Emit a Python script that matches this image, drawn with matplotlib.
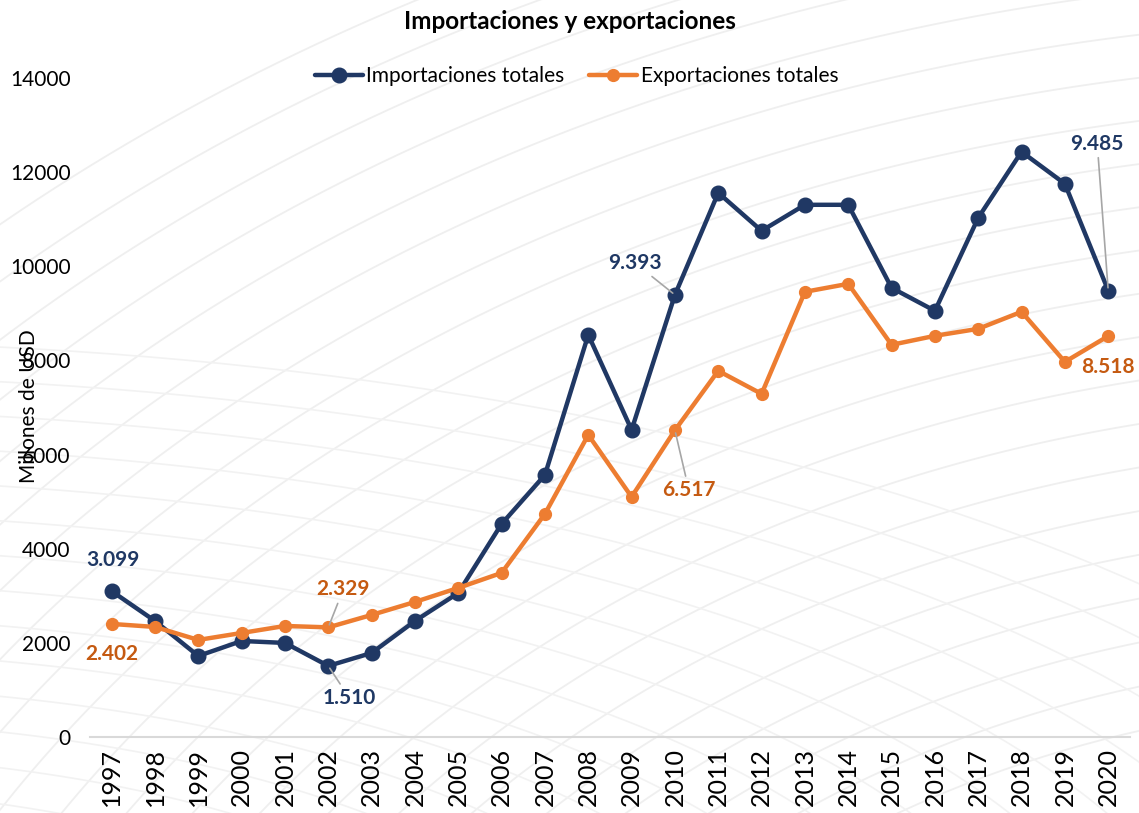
import numpy as np
import matplotlib
matplotlib.use("Agg")
import matplotlib.pyplot as plt

plt.rcParams["font.family"] = ["Lato", "DejaVu Sans"]

years = [str(y) for y in range(1997, 2021)]

importaciones = [3099, 2465, 1721, 2040, 1998, 1510, 1785, 2465, 3060, 4527,
                 5568, 8544, 6525, 9393, 11562, 10754, 11307, 11307, 9543, 9054,
                 11031, 12434, 11753, 9485]

exportaciones = [2402, 2338, 2062, 2210, 2359, 2329, 2593, 2869, 3167, 3486,
                 4740, 6419, 5101, 6517, 7779, 7290, 9458, 9628, 8332, 8523,
                 8672, 9034, 7970, 8518]

yTicks = [0, 2000, 4000, 6000, 8000, 10000, 12000, 14000]

navy = "#203864"
orange = "#ED7D31"
navyText = "#1F3864"
orangeText = "#C55A11"

fig = plt.figure(figsize=(11.39, 8.13), dpi=100)

# faint decorative arcs in the background
bg = fig.add_axes([0, 0, 1, 1], zorder=-5)
bg.set_xlim(0, 1)
bg.set_ylim(0, 1)
bg.axis("off")
t = np.linspace(0, 2*np.pi, 600)
for r in np.linspace(0.9, 1.9, 22):
    bg.plot(1.25 + r*np.cos(t), -0.85 + r*1.1*np.sin(t), color="#efefef", lw=1.3)
for r in np.linspace(0.6, 1.6, 14):
    bg.plot(-0.2 + r*np.cos(t), -0.3 + r*0.55*np.sin(t), color="#f2f2f2", lw=1.2)

ax = fig.add_axes([0.079, 0.0935, 0.913, 0.8105])
ax.patch.set_alpha(0)

x = np.arange(len(years))

ax.plot(x, importaciones, color=navy, lw=3.2, marker="o", markersize=10.5,
        label="Importaciones totales", zorder=3, solid_capstyle="round")
ax.plot(x, exportaciones, color=orange, lw=3.2, marker="o", markersize=8.5,
        label="Exportaciones totales", zorder=4, solid_capstyle="round")

ax.set_xlim(-0.5, len(years) - 0.5)
ax.set_ylim(0, 14000)
ax.set_yticks(yTicks)
ax.set_yticklabels([str(v) for v in yTicks], fontsize=15)
ax.set_xticks(x)
ax.set_xticklabels(years, rotation=90, fontsize=18)
ax.tick_params(axis="both", length=0)
ax.tick_params(axis="y", pad=14)
ax.tick_params(axis="x", pad=8)

for side in ["top", "right", "left"]:
    ax.spines[side].set_visible(False)
ax.spines["bottom"].set_color("#d9d9d9")
ax.spines["bottom"].set_linewidth(1.5)

ax.set_ylabel("Millones de USD", fontsize=15)
ax.yaxis.set_label_coords(0.034, 0.5, transform=fig.transFigure)

fig.suptitle("Importaciones y exportaciones", fontsize=17.5, fontweight="bold", y=0.988)

ax.legend(loc="upper center", bbox_to_anchor=(0.468, 1.047), ncol=2, frameon=False,
          fontsize=15, handlelength=2.3, columnspacing=1.2, handletextpad=0.15)

# data labels: (series, index, offset in pixels, leader line)
labels = [
    (importaciones, 0, (1, 31), navyText, False),
    (exportaciones, 0, (0, -30), orangeText, False),
    (exportaciones, 5, (15, 38), orangeText, True),
    (importaciones, 5, (21, -32), navyText, True),
    (importaciones, 13, (-40, 32), navyText, True),
    (exportaciones, 13, (14, -60), orangeText, True),
    (importaciones, 23, (-11, 147), navyText, True),
    (exportaciones, 23, (0, -31), orangeText, False),
]

for series, i, off, col, leader in labels:
    txt = "{:,}".format(series[i]).replace(",", ".")
    kw = {}
    if leader:
        kw["arrowprops"] = dict(arrowstyle="-", color="#a6a6a6", lw=1.2,
                                shrinkA=1, shrinkB=2)
    ax.annotate(txt, (x[i], series[i]), xytext=off, textcoords="offset pixels",
                ha="center", va="center", fontsize=15, fontweight="bold",
                color=col, zorder=6, **kw)

fig.savefig("out.png", dpi=100)
